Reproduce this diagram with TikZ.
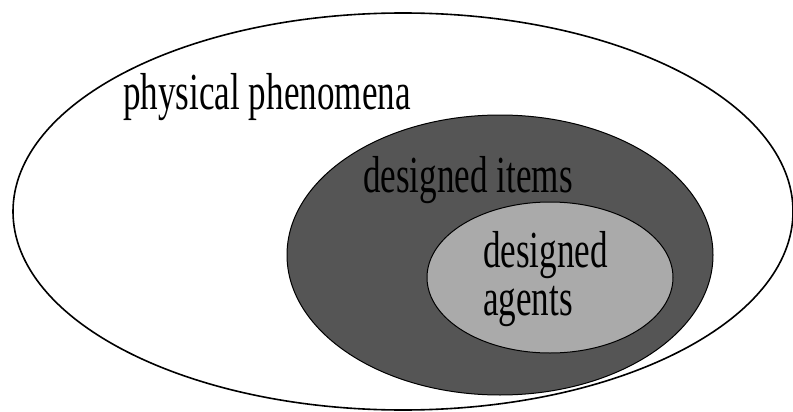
\documentclass[tikz,border=0pt]{standalone}
\usepackage{fontspec}
\setmainfont{Liberation Serif}[FakeStretch=0.675]
\definecolor{itemsgray}{RGB}{85,85,85}
\definecolor{agentsgray}{RGB}{170,170,170}
\begin{document}
\begin{tikzpicture}[x=1pt,y=-1pt,
  lbl/.style={anchor=base west,inner sep=0pt,font=\fontsize{52}{48}\selectfont,text=black},
  setline/.style={draw=black,line width=1pt}]
\useasboundingbox (0,0) rectangle (793,412);
% outer set
\draw[line width=1.6pt,fill=white] (403,211.5) ellipse [x radius=390pt,y radius=198.5pt];
% designed items
\draw[setline,fill=itemsgray] (500,255) ellipse [x radius=213pt,y radius=140pt];
% designed agents
\draw[setline,fill=agentsgray] (550,277.5) ellipse [x radius=123pt,y radius=75.5pt];
% labels
\node[lbl] (phys) at (123,110) {physical phenomena};
\node[lbl] (items) at (363,192) {designed items};
\node[lbl,align=left] (agents) at (483,315) {designed\\agents};
\end{tikzpicture}
\end{document}
